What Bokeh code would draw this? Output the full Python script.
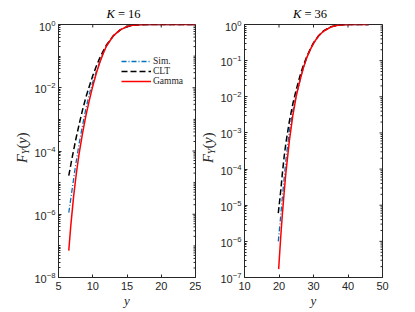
import math
from bokeh.plotting import figure
from bokeh.models import FixedTicker, Legend, LegendItem, Range1d, Div
from bokeh.layouts import row, column
from bokeh.embed import file_html
from bokeh.resources import INLINE

# ---------------- data ----------------
# K = 16 panel
k16_x_ticks = [5, 10, 15, 20, 25]
k16_y_ticks = [1e-8, 1e-6, 1e-4, 1e-2, 1e0]

k16_sim_y = [6.5, 7.0, 7.5, 8.0, 8.5, 9.0, 9.5, 10.0, 10.5, 11.0, 11.5, 12.0,
             13.0, 14.0, 15.0, 16.0, 17.0, 18.5, 20.0, 25.0]
k16_sim_F = [1.12e-6, 6.31e-6, 3.55e-5, 1.66e-4, 6.31e-4, 2.19e-3, 6.31e-3, 1.51e-2,
             3.16e-2, 6.31e-2, 0.120, 0.209, 0.4365, 0.676, 0.861, 0.955, 0.9886,
             0.9988, 1.0, 1.0]

k16_clt_y = [6.5, 7.0, 7.5, 8.0, 8.5, 9.0, 9.5, 10.0, 10.5, 11.0, 11.5, 12.0,
             13.0, 14.0, 15.0, 16.0, 17.0, 18.5, 20.0, 25.0]
k16_clt_F = [1.66e-5, 6.31e-5, 2.19e-4, 6.76e-4, 1.95e-3, 5.01e-3, 1.12e-2, 2.40e-2,
             4.68e-2, 8.51e-2, 0.141, 0.224, 0.437, 0.676, 0.855, 0.953, 0.989,
             0.999, 1.0, 1.0]

k16_gam_y = [6.5, 6.8, 7.2, 7.6, 8.0, 8.5, 9.0, 9.5, 10.0, 10.5, 11.0, 11.5, 12.0,
             13.0, 14.0, 15.0, 16.0, 17.0, 18.5, 20.0, 25.0]
k16_gam_F = [7.08e-8, 4.47e-7, 3.55e-6, 1.91e-5, 7.94e-5, 3.55e-4, 1.32e-3, 3.98e-3,
             1.12e-2, 2.75e-2, 6.03e-2, 0.1175, 0.209, 0.4365, 0.676, 0.861, 0.955,
             0.9886, 0.9988, 1.0, 1.0]

# K = 36 panel
k36_x_ticks = [10, 20, 30, 40, 50]
k36_y_ticks = [1e-7, 1e-6, 1e-5, 1e-4, 1e-3, 1e-2, 1e-1, 1e0]

k36_sim_y = [19.8, 20.3, 21.0, 21.5, 22.0, 23.0, 24.0, 25.0, 26.0, 27.0, 28.0, 29.0,
             30.0, 31.5, 33.0, 35.0, 37.0, 39.0, 42.0, 46.0]
k36_sim_F = [1.0e-6, 3.16e-6, 1.78e-5, 5.62e-5, 1.78e-4, 1.12e-3, 3.98e-3, 1.10e-2,
             2.63e-2, 6.03e-2, 0.1175, 0.195, 0.302, 0.490, 0.661, 0.851, 0.955,
             0.9886, 0.9988, 1.0]

k36_clt_y = [19.8, 20.5, 21.0, 21.5, 22.0, 23.0, 24.0, 25.0, 26.0, 27.0, 28.0, 29.0,
             30.0, 31.5, 33.0, 35.0, 37.0, 39.0, 42.0, 46.0]
k36_clt_F = [6.03e-6, 2.51e-5, 7.94e-5, 2.24e-4, 5.25e-4, 2.09e-3, 6.31e-3, 1.58e-2,
             3.55e-2, 7.08e-2, 0.126, 0.204, 0.309, 0.490, 0.676, 0.861, 0.959,
             0.991, 0.9991, 1.0]

k36_gam_y = [19.9, 20.5, 21.0, 21.5, 22.0, 23.0, 24.0, 25.0, 26.0, 27.0, 28.0, 29.0,
             30.0, 31.5, 33.0, 35.0, 37.0, 39.0, 42.0, 46.0]
k36_gam_F = [1.70e-7, 1.32e-6, 6.03e-6, 2.29e-5, 7.94e-5, 6.03e-4, 3.02e-3, 1.05e-2,
             2.63e-2, 6.03e-2, 0.1175, 0.195, 0.302, 0.490, 0.661, 0.851, 0.955,
             0.9886, 0.9988, 1.0]

series_labels = ["Sim.", "CLT", "Gamma"]
panel_K = ["16", "36"]

# ---------------- styling ----------------
AXC = "#262626"
SERIF = "Liberation Serif"
SANS = "Liberation Sans"
C_SIM, C_CLT, C_GAM = "#0072BD", "#000000", "#FF0000"


def minor_log(lo_exp, hi_exp, majors):
    out = []
    for e in range(lo_exp, hi_exp):
        for k in range(1, 10):
            v = k * 10.0 ** e
            if all(abs(v - m) / m > 1e-9 for m in majors):
                out.append(v)
    return out


def style_axis(ax, standoff):
    ax.axis_line_color = AXC
    ax.axis_line_width = 1
    ax.major_tick_line_color = AXC
    ax.minor_tick_line_color = AXC
    ax.major_tick_in = 3
    ax.major_tick_out = 0
    ax.minor_tick_in = 2
    ax.minor_tick_out = 0
    ax.major_label_text_font = SANS
    ax.major_label_text_font_size = "11px"
    ax.major_label_text_color = AXC
    ax.major_label_standoff = standoff


def make_panel(xr, yr, xticks, yticks, yminor, fw, bl, br, data):
    p = figure(frame_width=fw, frame_height=253,
               x_range=Range1d(*xr), y_range=Range1d(*yr), y_axis_type="log",
               output_backend="svg", toolbar_location=None,
               min_border_left=bl, min_border_right=br,
               min_border_top=4, min_border_bottom=33)
    p.outline_line_color = AXC
    p.outline_line_width = 1
    p.xgrid.visible = False
    p.ygrid.visible = False
    p.background_fill_color = "white"
    p.border_fill_color = "white"

    p.xaxis.ticker = FixedTicker(ticks=xticks, minor_ticks=[])
    p.yaxis.ticker = FixedTicker(ticks=yticks, minor_ticks=yminor)
    style_axis(p.xaxis[0], 4)
    style_axis(p.yaxis[0], 3)
    p.xaxis.axis_label = "y"
    p.xaxis.axis_label_text_font = SERIF
    p.xaxis.axis_label_text_font_style = "italic"
    p.xaxis.axis_label_text_font_size = "13px"
    p.xaxis.axis_label_text_color = AXC
    p.xaxis.axis_label_standoff = 0

    # tick marks on the top and right edges (inside), from the tick arrays
    p.ray(x=xticks, y=[yr[1]] * len(xticks), length=3, length_units="screen",
          angle=-math.pi / 2, line_color=AXC, line_width=1)
    p.ray(x=[xr[1]] * len(yticks), y=yticks, length=3, length_units="screen",
          angle=math.pi, line_color=AXC, line_width=1)
    p.ray(x=[xr[1]] * len(yminor), y=yminor, length=2, length_units="screen",
          angle=math.pi, line_color=AXC, line_width=1)

    (sx, sF), (cx, cF), (gx, gF) = data
    r1 = p.line(sx, sF, line_color=C_SIM, line_width=1.3, line_dash="5 2 1 2")
    r2 = p.line(cx, cF, line_color=C_CLT, line_width=1.5, line_dash="6 3")
    r3 = p.line(gx, gF, line_color=C_GAM, line_width=1.5)
    return p, (r1, r2, r3)


def title_div(width, center, ktxt):
    html = (f'<div style="position:relative;width:{width}px;height:20px;">'
            f'<span style="position:absolute;left:{center}px;top:7px;transform:translateX(-50%);'
            f'white-space:nowrap;font-family:\'{SERIF}\';font-size:12.5px;line-height:14px;color:#000;">'
            f'<i>K</i> = {ktxt}</span></div>')
    return Div(text=html, width=width, height=20, margin=0, disable_math=True)


def ylab_div(width, height, left, top):
    html = (f'<div style="position:relative;width:{width}px;height:{height}px;">'
            f'<span style="position:absolute;left:{left}px;top:{top}px;transform-origin:0 0;'
            f'transform:rotate(-90deg);white-space:nowrap;font-family:\'{SERIF}\';'
            f'font-size:14.5px;line-height:15px;color:{AXC};">'
            f'<i>F</i><sub style="font-size:10px;vertical-align:-2px;"><i>Y</i></sub>(<i>y</i>)</span></div>')
    return Div(text=html, width=width, height=height, margin=0, disable_math=True)


p1, rs1 = make_panel((5, 25), (1e-8, 1e0), k16_x_ticks, k16_y_ticks,
                     minor_log(-8, 0, k16_y_ticks), 137, 24, 6,
                     ((k16_sim_y, k16_sim_F), (k16_clt_y, k16_clt_F), (k16_gam_y, k16_gam_F)))
p2, rs2 = make_panel((10, 50), (1e-7, 1e0), k36_x_ticks, k36_y_ticks,
                     minor_log(-7, 0, k36_y_ticks), 138, 24, 10,
                     ((k36_sim_y, k36_sim_F), (k36_clt_y, k36_clt_F), (k36_gam_y, k36_gam_F)))

legend = Legend(items=[LegendItem(label=series_labels[i], renderers=[rs1[i]]) for i in range(3)],
                location=(63, 191), orientation="vertical")
legend.label_text_font = SERIF
legend.label_text_font_size = "9.5px"
legend.label_text_color = AXC
legend.background_fill_alpha = 0
legend.border_line_alpha = 0
legend.padding = 0
legend.margin = 0
legend.spacing = 0
legend.glyph_width = 30
legend.glyph_height = 10
legend.label_height = 10
legend.label_standoff = 2
p1.add_layout(legend)

left_col = column(title_div(198, 123.5, panel_K[0]),
                  row(ylab_div(31, 290, 14.5, 143), p1))
right_col = column(title_div(188, 109, panel_K[1]),
                   row(ylab_div(16, 290, 0, 143), p2))
layout = row(left_col, right_col)
open("out.html", "w").write(file_html(layout, INLINE))
